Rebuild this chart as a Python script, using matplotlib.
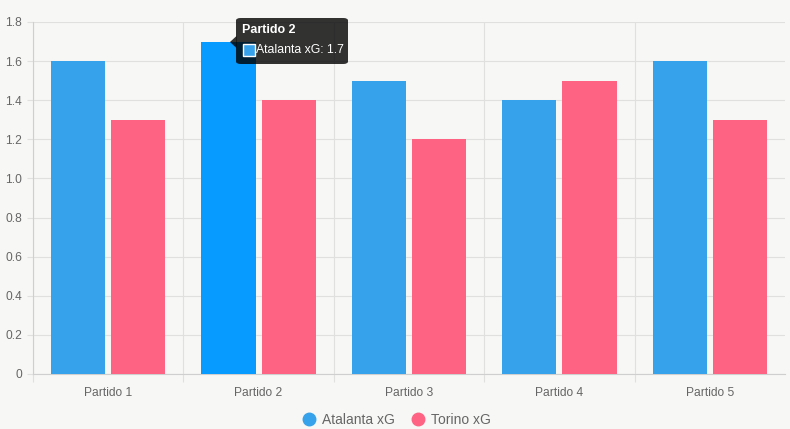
import matplotlib.pyplot as plt
from matplotlib.lines import Line2D
from matplotlib.patches import FancyBboxPatch, Polygon, Rectangle

partidos = ["Partido 1", "Partido 2", "Partido 3", "Partido 4", "Partido 5"]
atalanta_xg = [1.6, 1.7, 1.5, 1.4, 1.6]
torino_xg = [1.3, 1.4, 1.2, 1.5, 1.3]
y_ticks = [0, 0.2, 0.4, 0.6, 0.8, 1.0, 1.2, 1.4, 1.6, 1.8]
hover_idx = 1

BG = "#f7f7f5"
BLUE = "#36a2eb"
BLUE_HOVER = "#089bff"
PINK = "#ff6384"
GRID = "#e0e0df"
TEXT = "#666666"

plt.rcParams["font.family"] = ["Liberation Sans", "DejaVu Sans"]

W, H = 790, 429
fig = plt.figure(figsize=(W / 100, H / 100), dpi=100, facecolor=BG)
ax = fig.add_axes([33 / W, 55 / H, 752 / W, 352 / H], facecolor=BG)

x = list(range(len(partidos)))
bw = 0.36
blue_colors = [BLUE_HOVER if i == hover_idx else BLUE for i in x]
ax.bar([i - 0.2 for i in x], atalanta_xg, width=bw, color=blue_colors, zorder=3)
ax.bar([i + 0.2 for i in x], torino_xg, width=bw, color=PINK, zorder=3)

ax.set_xlim(-0.5, len(partidos) - 0.5)
ax.set_ylim(0, 1.8)
ax.set_yticks(y_ticks)
ax.set_yticklabels(["0" if v == 0 else f"{v:.1f}" for v in y_ticks])
ax.set_xticks(x)
ax.set_xticklabels(partidos)
# category separators (the right edge has none)
ax.set_xticks([i - 0.5 for i in range(len(partidos))], minor=True)

ax.tick_params(axis="y", length=4.3, pad=3.6, color=GRID, labelcolor=TEXT, labelsize=8.64, width=0.8)
ax.tick_params(axis="x", which="major", length=0, pad=9, labelcolor=TEXT, labelsize=8.64)
ax.tick_params(axis="x", which="minor", length=5.8, color=GRID, width=0.8)

ax.grid(axis="y", color=GRID, linewidth=0.8, zorder=0)
ax.grid(axis="x", which="minor", color=GRID, linewidth=0.8, zorder=0)
for side in ["top", "right"]:
    ax.spines[side].set_visible(False)
for side in ["left", "bottom"]:
    ax.spines[side].set_color("#cfcfcf")
    ax.spines[side].set_linewidth(0.8)

# legend
handles = [
    Line2D([], [], marker="o", linestyle="", markersize=9, color=BLUE, label="Atalanta xG"),
    Line2D([], [], marker="o", linestyle="", markersize=9, color=PINK, label="Torino xG"),
]
fig.legend(handles=handles, loc="center", bbox_to_anchor=(397 / W, 1 - 420 / H), ncol=2,
           frameon=False, fontsize=10, labelcolor=TEXT, handletextpad=0.5, columnspacing=1.3,
           handlelength=0.8)


# tooltip (pixel coords measured from top-left)
def fx(px):
    return px / W


def fy(py):
    return 1 - py / H


tip = FancyBboxPatch((fx(236), fy(64)), fx(348) - fx(236), fy(18) - fy(64),
                     boxstyle="round,pad=0,rounding_size=0.006", transform=fig.transFigure,
                     facecolor=(0, 0, 0, 0.8), edgecolor="none", zorder=10)
fig.patches.append(tip)
caret = Polygon([(fx(230), fy(42)), (fx(236.5), fy(36)), (fx(236.5), fy(48))], closed=True,
                transform=fig.transFigure, facecolor=(0, 0, 0, 0.8), edgecolor="none", zorder=10)
fig.patches.append(caret)
swatch = Rectangle((fx(243), fy(56)), fx(255) - fx(243), fy(44) - fy(56), transform=fig.transFigure,
                   facecolor=BLUE, edgecolor="white", linewidth=1, zorder=11)
fig.patches.append(swatch)
fig.text(fx(242), fy(30), partidos[hover_idx], color="white", fontsize=9, fontweight="bold",
         va="center", ha="left", zorder=12)
fig.text(fx(256), fy(50), f"Atalanta xG: {atalanta_xg[hover_idx]}", color="white", fontsize=8.8,
         va="center", ha="left", zorder=12)

fig.savefig("out.png", dpi=100, facecolor=BG)
